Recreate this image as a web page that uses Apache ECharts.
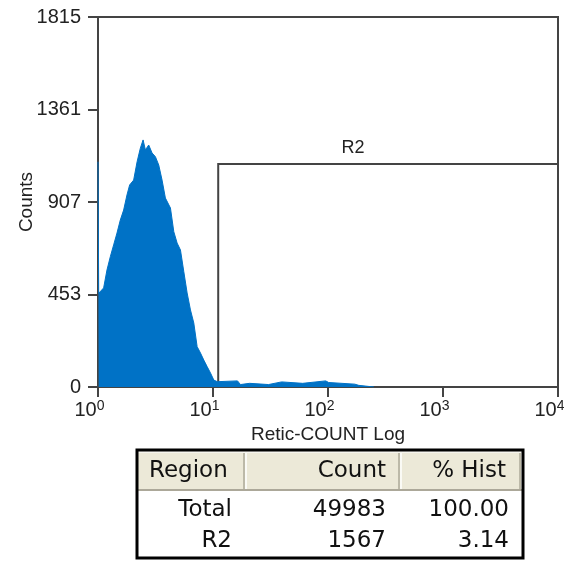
<!DOCTYPE html>
<html>
<head>
<meta charset="utf-8">
<script src="https://cdn.jsdelivr.net/npm/echarts@6/dist/echarts.min.js"></script>
<style>html,body{margin:0;padding:0;background:#fff;}#c{width:564px;height:561px;}</style>
</head>
<body>
<div id="c"></div>
<script>
// ---- data ----
var histLogX = [0, 0.006, 0.049, 0.078, 0.107, 0.136, 0.165, 0.194, 0.223, 0.252, 0.275, 0.310, 0.340, 0.368, 0.392, 0.412, 0.441, 0.470, 0.499, 0.528, 0.557, 0.586, 0.630, 0.659, 0.688, 0.717, 0.746, 0.775, 0.804, 0.833, 0.862, 0.891, 0.920, 0.949, 0.978, 1.007, 1.037, 1.048, 1.213, 1.239, 1.318, 1.483, 1.597, 1.780, 1.980, 2.006, 2.233, 2.268, 2.399];
var histCounts = [1105, 460, 486, 574, 639, 697, 755, 819, 868, 942, 991, 1015, 1105, 1171, 1212, 1163, 1187, 1148, 1130, 1089, 1015, 927, 878, 762, 706, 672, 566, 461, 378, 314, 198, 167, 132, 100, 69, 34, 26, 22, 30, 12, 18, 12, 25, 18, 30, 22, 14, 8, 0];
var yTickLabels = ['0', '453', '907', '1361', '1815'];
var r2Region = { name: 'R2', xFrom: 11.1, xTo: 10000, yFrom: 0, yTo: 1094 };
var tableHeader = ['Region', 'Count', '% Hist'];
var tableRegions = ['Total', 'R2'];
var tableCounts = ['49983', '1567'];
var tablePercents = ['100.00', '3.14'];

var chart = echarts.init(document.getElementById('c'));
var seriesData = histLogX.map(function (e, i) { return [Math.pow(10, e), histCounts[i]]; });
var axisCol = '#444';
var font = 'Liberation Sans, Arial, sans-serif';
var tfont = 'DejaVu Sans, Verdana, sans-serif';

// table graphics
var g = [];
var TL = 137, TR = 523, TT = 450, TB = 558, HB = 491;
var colSep = [244, 399, 520];
g.push({ type: 'rect', shape: { x: TL, y: TT, width: TR - TL, height: TB - TT }, style: { fill: '#fff', stroke: null }, z: 1 });
g.push({ type: 'rect', shape: { x: TL, y: TT, width: TR - TL, height: HB - TT }, style: { fill: '#ECE9D8' }, z: 2 });
g.push({ type: 'line', shape: { x1: TL, y1: HB - 1, x2: TR, y2: HB - 1 }, style: { stroke: '#ACA899', lineWidth: 2 }, z: 3 });
g.push({ type: 'line', shape: { x1: TL, y1: TT + 2, x2: TR, y2: TT + 2 }, style: { stroke: '#F6F5EE', lineWidth: 2 }, z: 3 });
colSep.forEach(function (x) {
  g.push({ type: 'line', shape: { x1: x, y1: TT + 3, x2: x, y2: HB - 2 }, style: { stroke: '#ACA899', lineWidth: 1.5 }, z: 3 });
  g.push({ type: 'line', shape: { x1: x + 2, y1: TT + 3, x2: x + 2, y2: HB - 2 }, style: { stroke: '#FFFFFF', lineWidth: 1.5 }, z: 3 });
});
g.push({ type: 'rect', shape: { x: TL, y: TT, width: TR - TL, height: TB - TT }, style: { fill: null, stroke: '#000', lineWidth: 3 }, z: 5 });
var hdrY = 471;
g.push({ type: 'text', x: 149, y: hdrY, style: { text: tableHeader[0], font: '23px ' + tfont, fill: '#111', textAlign: 'left', textVerticalAlign: 'middle' }, z: 6 });
g.push({ type: 'text', x: 386, y: hdrY, style: { text: tableHeader[1], font: '23px ' + tfont, fill: '#111', textAlign: 'right', textVerticalAlign: 'middle' }, z: 6 });
g.push({ type: 'text', x: 506, y: hdrY, style: { text: tableHeader[2], font: '23px ' + tfont, fill: '#111', textAlign: 'right', textVerticalAlign: 'middle' }, z: 6 });
var rowY = [510, 541];
tableRegions.forEach(function (r, i) {
  g.push({ type: 'text', x: 232, y: rowY[i], style: { text: r, font: '23px ' + tfont, fill: '#111', textAlign: 'right', textVerticalAlign: 'middle' }, z: 6 });
  g.push({ type: 'text', x: 386, y: rowY[i], style: { text: tableCounts[i], font: '23px ' + tfont, fill: '#111', textAlign: 'right', textVerticalAlign: 'middle' }, z: 6 });
  g.push({ type: 'text', x: 509, y: rowY[i], style: { text: tablePercents[i], font: '23px ' + tfont, fill: '#111', textAlign: 'right', textVerticalAlign: 'middle' }, z: 6 });
});

chart.setOption({
  animation: false,
  backgroundColor: '#fff',
  grid: { left: 98, top: 17, width: 460, height: 370, containLabel: false, outerBoundsMode: 'none', show: true, borderColor: axisCol, borderWidth: 2, backgroundColor: 'transparent' },
  xAxis: {
    type: 'log', logBase: 10, min: 1, max: 10000,
    name: 'Retic-COUNT Log', nameLocation: 'middle', nameGap: 38, nameMoveOverlap: false,
    nameTextStyle: { fontFamily: font, fontSize: 19, color: '#222' },
    axisLine: { lineStyle: { color: axisCol, width: 2 } },
    axisTick: { inside: false, length: 10, lineStyle: { color: axisCol, width: 2 } },
    splitLine: { show: false },
    minorTick: { show: false },
    axisLabel: {
      margin: 12, color: '#222', fontFamily: font, hideOverlap: false,
      formatter: function (v) { return '{b|10}{s|' + Math.round(Math.log10(v)) + '}{p| }'; },
      rich: {
        b: { fontSize: 20, fontFamily: font, color: '#222', lineHeight: 22 },
        s: { fontSize: 14, fontFamily: font, color: '#222', verticalAlign: 'top', lineHeight: 14 },
        p: { width: 17, fontSize: 13 }
      }
    }
  },
  yAxis: {
    type: 'value', min: 0, max: 1815, interval: 453.75,
    name: 'Counts', nameLocation: 'middle', nameGap: 62, nameRotate: 90, nameMoveOverlap: false,
    nameTextStyle: { fontFamily: font, fontSize: 19, color: '#222' },
    axisLine: { show: true, lineStyle: { color: axisCol, width: 2 } },
    axisTick: { show: true, inside: false, length: 10, lineStyle: { color: axisCol, width: 2 } },
    splitLine: { show: false },
    axisLabel: {
      margin: 17, color: '#222', fontFamily: font, fontSize: 20,
      formatter: function (v) { return yTickLabels[Math.round(v / 453.75)]; }
    }
  },
  series: [{
    type: 'line', symbol: 'none', sampling: null,
    data: seriesData,
    lineStyle: { color: '#0072C6', width: 1 },
    areaStyle: { color: '#0072C6', opacity: 1 },
    z: 2,
    markArea: {
      silent: true,
      itemStyle: { color: 'rgba(0,0,0,0)', borderColor: axisCol, borderWidth: 2 },
      label: { show: true, position: 'top', distance: 6, offset: [-35, 0], color: '#222', fontFamily: font, fontSize: 18 },
      data: [[{ name: r2Region.name, coord: [r2Region.xFrom, r2Region.yTo] }, { coord: [r2Region.xTo, r2Region.yFrom] }]]
    }
  }],
  graphic: g
});
</script>
</body>
</html>
